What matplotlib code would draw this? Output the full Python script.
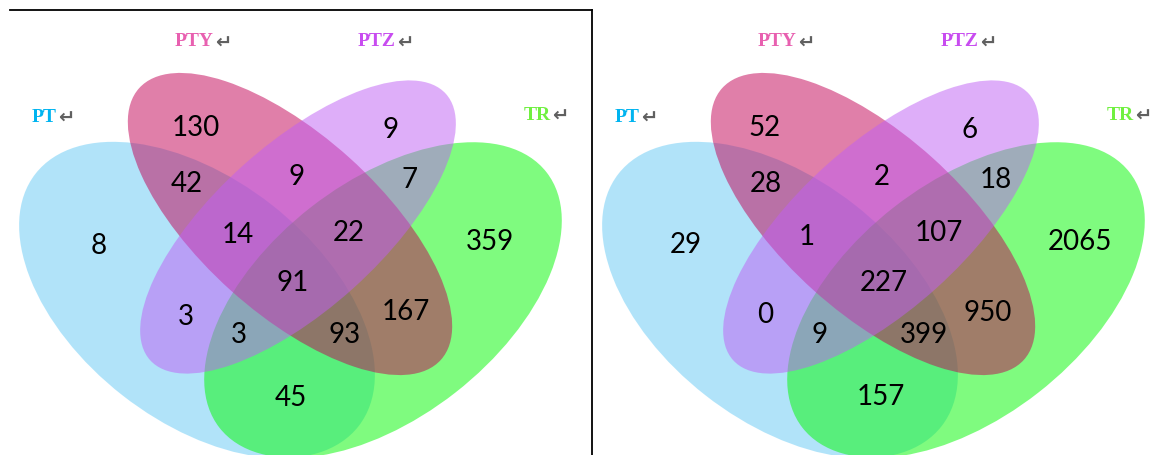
import matplotlib
matplotlib.use("Agg")
import matplotlib.pyplot as plt
from matplotlib.patches import Ellipse

# set names and label colours
sets = ["PT", "PTY", "PTZ", "TR"]
label_colors = ["#00B4F0", "#E860B0", "#C84CF0", "#70F040"]

# region counts, same region order in both diagrams:
# PT, PTY, PTZ, TR, PT&PTY, PTY&PTZ, PTZ&TR, PT&PTY&PTZ, PTY&PTZ&TR,
# all, PT&PTZ, PTY&TR, PT&PTZ&TR, PT&PTY&TR, PT&TR
left_counts = [8, 130, 9, 359, 42, 9, 7, 14, 22, 91, 3, 167, 3, 93, 45]
right_counts = [29, 52, 6, 2065, 28, 2, 18, 1, 107, 227, 0, 950, 9, 399, 157]

# layout (pixel coords, y down)
W, H = 1176, 455
panel_dx = [0, 583]

# ellipse shapes: centre, width, height, angle  (drawing order blue, green, pink, violet)
shapes = {
    "PT": ((197, 300), 410, 242, 38),
    "TR": ((383, 300), 415, 235, -38),
    "PTY": ((290, 224), 406, 178, 42),
    "PTZ": ((298, 227), 398, 165, -42),
}
fills = {"PT": "#65C9F5", "TR": "#00F900", "PTY": "#C20055", "PTZ": "#BF5FF5"}
draw_order = ["PT", "TR", "PTY", "PTZ"]

label_pos = [(32, 117), (175, 42), (358, 42), (524, 115)]

left_xy = [(99, 246), (196, 128), (391, 130), (490, 242), (187, 184), (297, 177),
           (410, 180), (238, 235), (349, 233), (293, 283), (186, 317), (406, 312),
           (239, 335), (345, 335), (291, 398)]
right_xy = [(686, 245), (765, 128), (970, 130), (1080, 242), (766, 184), (882, 177),
            (996, 180), (807, 237), (939, 233), (884, 283), (765, 315), (988, 313),
            (820, 335), (924, 335), (881, 397)]

fig = plt.figure(figsize=(W / 100, H / 100), dpi=100)
ax = fig.add_axes([0, 0, 1, 1])
ax.set_xlim(0, W)
ax.set_ylim(H, 0)
ax.axis("off")

for dx, counts, xy in zip(panel_dx, [left_counts, right_counts], [left_xy, right_xy]):
    for name in draw_order:
        (cx, cy), w, h, ang = shapes[name]
        ax.add_patch(Ellipse((cx + dx, cy), w, h, angle=ang,
                             facecolor=fills[name], alpha=0.5, edgecolor="none"))
    for name, col, (lx, ly) in zip(sets, label_colors, label_pos):
        t = ax.text(lx + dx, ly, name, color=col, fontsize=14, fontweight="bold",
                    family="Liberation Serif", ha="left", va="center")
        ax.annotate("\u21b5", xy=(1, 0.45), xycoords=t, xytext=(0.5, 0),
                    textcoords="offset points", ha="left", va="center",
                    color="#606060", fontsize=14, fontweight="bold",
                    family="DejaVu Sans")
    for n, (x, y) in zip(counts, xy):
        ax.text(x, y, str(n), fontsize=20, family="Lato", color="black",
                ha="center", va="center")

# frame around the left diagram
ax.plot([10, 592], [10, 10], color="black", lw=1.3)
ax.plot([592, 592], [10, H], color="black", lw=1.3)

fig.savefig("out.png", dpi=100)
